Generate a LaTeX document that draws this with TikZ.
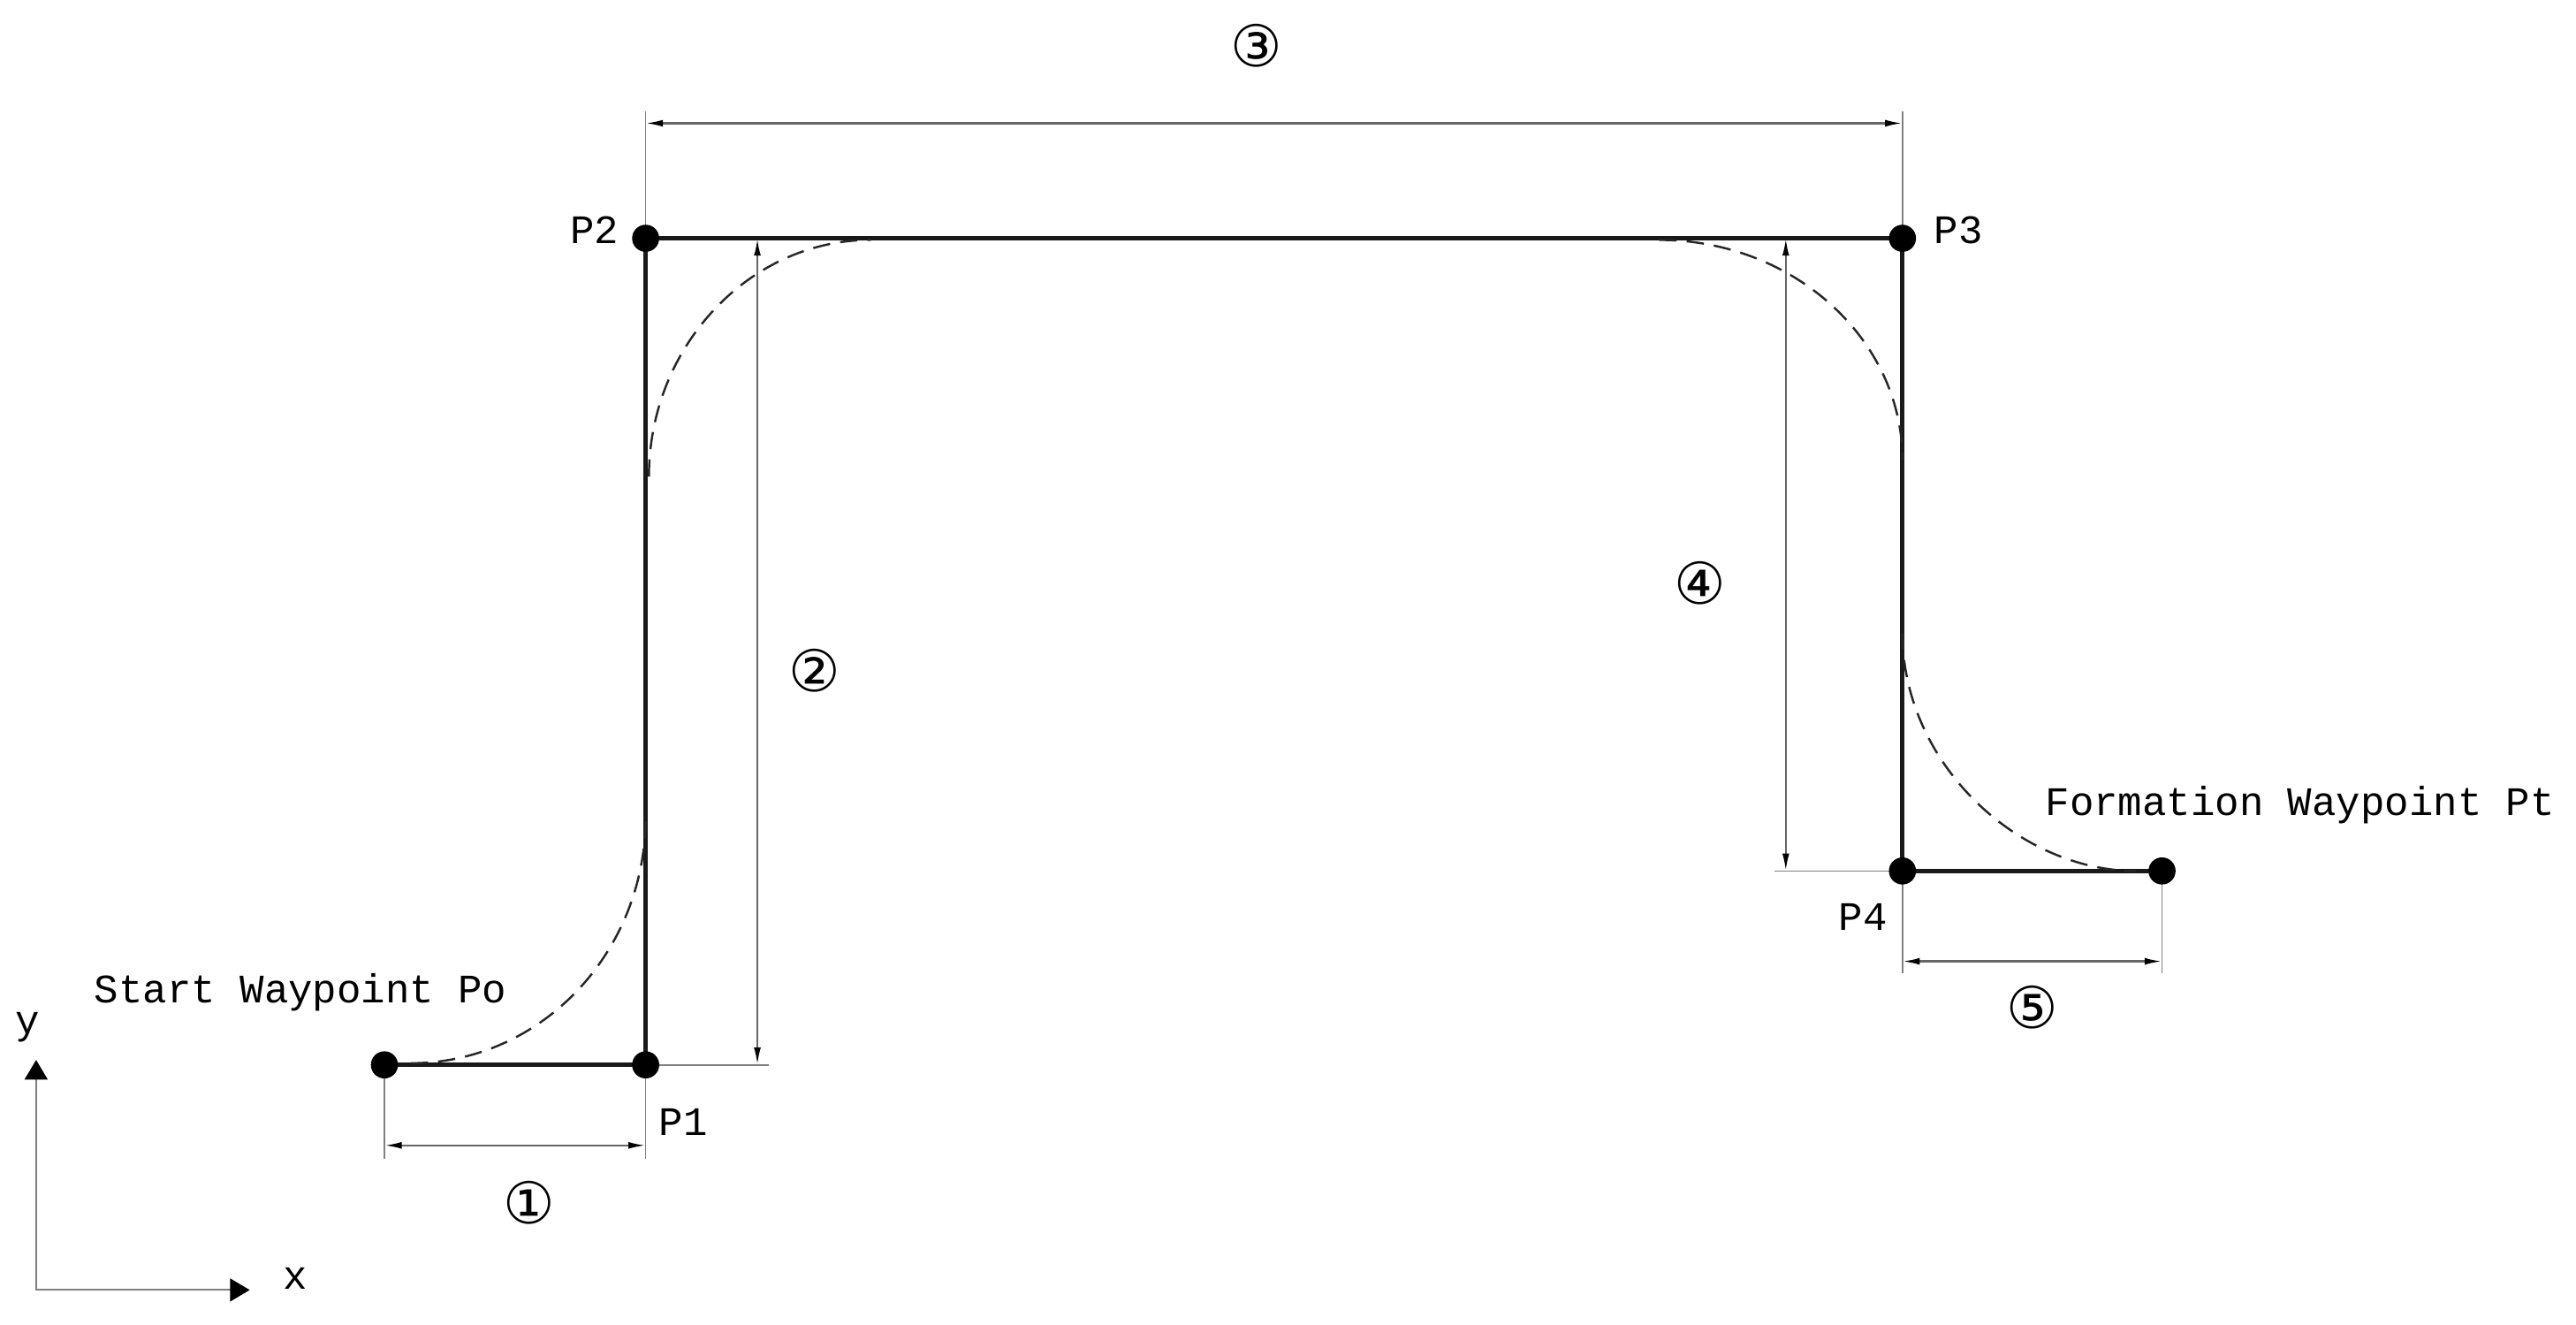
\documentclass[tikz,border=0pt]{standalone}
\usepackage{fontspec}
\setmainfont{Liberation Mono}
\newfontfamily\circfont{DejaVu Sans}
\usetikzlibrary{arrows.meta}
\begin{document}
\begin{tikzpicture}[x=0.02cm,y=-0.02cm,
  route/.style={line width=1.5pt,black!90},
  wp/.style={circle,fill=black,inner sep=0pt,minimum size=0.33cm},
  dashcurve/.style={line width=0.75pt,black!85,dash pattern=on 6pt off 3.5pt},
  ext/.style={line width=0.5pt,black!50},
  dimarrow/.style={line width=0.7pt,black!60,{Latex[length=6pt,width=2.4pt,black]}-{Latex[length=6pt,width=2.4pt,black]}},
  axis/.style={line width=0.6pt,black!50,{Triangle[length=0.24cm,width=0.28cm,black]}-{Triangle[length=0.24cm,width=0.28cm,black]}},
  lbl/.style={font=\fontsize{14}{16}\selectfont,inner sep=0pt},
  num/.style={font=\circfont\fontsize{20}{22}\selectfont,inner sep=0pt}
]
\useasboundingbox (0,0) rectangle (1568,806);
% waypoints
\coordinate (po) at (234,648);
\coordinate (p1) at (393,648);
\coordinate (p2) at (393,145);
\coordinate (p3) at (1158,145);
\coordinate (p4) at (1158,530);
\coordinate (pt) at (1316,530);
% dimension helper coordinates
\coordinate (e1a) at (234,705); \coordinate (e1b) at (393,705);
\coordinate (d1a) at (234,697); \coordinate (d1b) at (393,697);
\coordinate (e2) at (468,648);
\coordinate (d2a) at (461,145); \coordinate (d2b) at (461,648);
\coordinate (e3a) at (393,68); \coordinate (e3b) at (1158,68);
\coordinate (d3a) at (393,75); \coordinate (d3b) at (1158,75);
\coordinate (e4) at (1080,530);
\coordinate (d4a) at (1087,145); \coordinate (d4b) at (1087,530);
\coordinate (e5a) at (1158,592); \coordinate (e5b) at (1316,592);
\coordinate (d5a) at (1158,585); \coordinate (d5b) at (1316,585);
% curve end points
\coordinate (ca1) at (250,647); \coordinate (ca2) at (393,497);
\coordinate (cb1) at (395,290); \coordinate (cb2) at (530,146);
\coordinate (cc1) at (1010,146); \coordinate (cc2) at (1158,280);
\coordinate (cd1) at (1158,385); \coordinate (cd2) at (1300,530);
% axes
\coordinate (yt) at (22,645); \coordinate (xt) at (152,785);

% extension lines
\draw[ext] (po) -- (e1a);
\draw[ext] (p1) -- (e1b);
\draw[ext] (p1) -- (e2);
\draw[ext] (p2) -- (e3a);
\draw[ext] (p3) -- (e3b);
\draw[ext] (p4) -- (e4);
\draw[ext] (p4) -- (e5a);
\draw[ext] (pt) -- (e5b);
% dimension lines
\draw[dimarrow] (d1a) -- (d1b);
\draw[dimarrow] (d2a) -- (d2b);
\draw[dimarrow] (d3a) -- (d3b);
\draw[dimarrow] (d4a) -- (d4b);
\draw[dimarrow] (d5a) -- (d5b);

% route
\draw[route] (po) -- (p1) -- (p2) -- (p3) -- (p4) -- (pt);
% dashed smooth path
\draw[dashcurve] (ca1) .. controls (329,647) and (393,580) .. (ca2);
\draw[dashcurve] (cb1) .. controls (395,211) and (456,146) .. (cb2);
\draw[dashcurve] (cc1) .. controls (1091,146) and (1158,206) .. (cc2);
\draw[dashcurve] (cd1) .. controls (1158,465) and (1229,530) .. (cd2);

% dots
\node[wp] (Po) at (po) {};
\node[wp] (P1) at (p1) {};
\node[wp] (P2) at (p2) {};
\node[wp] (P3) at (p3) {};
\node[wp] (P4) at (p4) {};
\node[wp] (Pt) at (pt) {};

% axes
\draw[axis] (yt) |- (xt);

% labels
\node[lbl] (lP1) at (416,683) {P1};
\node[lbl] (lP2) at (362,140) {P2};
\node[lbl] (lP3) at (1192,140) {P3};
\node[lbl] (lP4) at (1134,558) {P4};
\node[lbl] (lPo) at (183,604) {Start Waypoint Po};
\node[lbl] (lPt) at (1400,490) {Formation Waypoint Pt};
\node[lbl] (ly) at (17,625) {y};
\node[lbl] (lx) at (180,778) {x};
\node[num] (n1) at (322,732) {①};
\node[num] (n2) at (496,408) {②};
\node[num] (n3) at (765,28) {③};
\node[num] (n4) at (1035,355) {④};
\node[num] (n5) at (1237,613) {⑤};
\end{tikzpicture}
\end{document}
